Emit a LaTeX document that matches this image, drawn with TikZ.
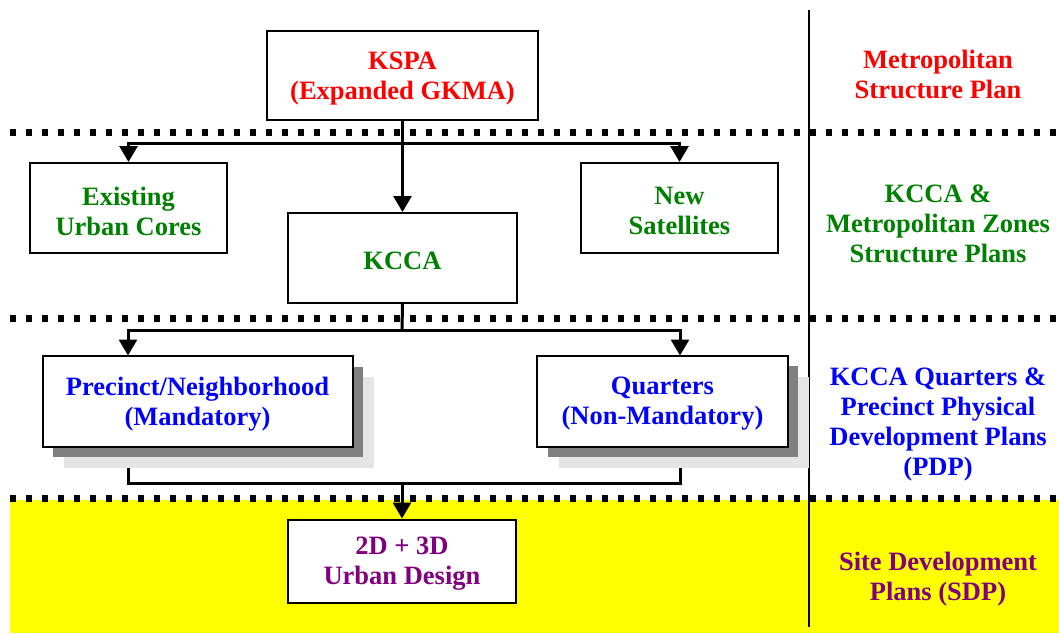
\documentclass[tikz,border=0pt]{standalone}
\usepackage{fontspec}
\setmainfont{Liberation Serif}
\usetikzlibrary{arrows.meta}
\definecolor{cred}{RGB}{255,0,0}
\definecolor{cgreen}{RGB}{0,128,0}
\definecolor{cblue}{RGB}{0,0,255}
\definecolor{cpurple}{RGB}{128,0,128}
\definecolor{cyel}{RGB}{255,255,0}
\definecolor{shdark}{RGB}{128,128,128}
\definecolor{shlight}{RGB}{229,229,229}
\tikzset{
  txt/.style={font=\fontsize{26.5}{30}\selectfont\bfseries, align=center, inner sep=0pt},
  box/.style={draw=black, line width=2pt, fill=white, rectangle, inner sep=0pt},
  boxtext/.style 2 args={label={[txt,text=#1,yshift=-3pt]center:#2}},
  conn/.style={line width=3pt, line cap=butt},
  arr/.style={conn, -{Triangle[width=18pt,length=16pt]}},
  dotline/.style={line width=7pt, dash pattern=on 6pt off 10pt},
}
\begin{document}
\begin{tikzpicture}[x=1pt,y=-1pt]
\useasboundingbox (0,0) rectangle (1059,635);
\fill[white] (0,0) rectangle (1059,635);
\fill[cyel] (10,500) rectangle (1059,633);
% separators
\draw[dotline] (10,132) -- (1059,132);
\draw[dotline] (10,318) -- (1059,318);
\draw[dotline] (10,498) -- (1059,498);
\draw[line width=2pt] (809,10) -- (809,627);
% shadows
\fill[shlight] (64,377) rectangle (374,468);
\fill[shdark] (53,367) rectangle (363,457);
\fill[shlight] (559,377) rectangle (809,468);
\fill[shdark] (548,366) rectangle (798,457);
% boxes
\node[box, minimum width=271pt, minimum height=89pt, boxtext={cred}{KSPA\\(Expanded GKMA)}] (kspa) at (402.5,75.5) {};
\node[box, minimum width=197pt, minimum height=90pt, boxtext={cgreen}{Existing\\Urban Cores}] (exist) at (128.5,208) {};
\node[box, minimum width=197pt, minimum height=90pt, boxtext={cgreen}{New\\Satellites}] (newsat) at (679.5,208) {};
\node[box, minimum width=229pt, minimum height=90pt, boxtext={cgreen}{KCCA}] (kcca) at (402.5,258) {};
\node[box, minimum width=310pt, minimum height=91pt, boxtext={cblue}{Precinct/Neighborhood\\(Mandatory)}] (prec) at (197.5,401) {};
\node[box, minimum width=251pt, minimum height=91pt, boxtext={cblue}{Quarters\\(Non-Mandatory)}] (quart) at (662.5,401) {};
\node[box, minimum width=228pt, minimum height=83pt, boxtext={cpurple}{2D + 3D\\Urban Design}] (urban) at (402,561) {};
% right labels
\node[txt, text=cred] (lab1) at (938,74) {Metropolitan\\Structure Plan};
\node[txt, text=cgreen] (lab2) at (938,224) {KCCA \&\\Metropolitan Zones\\Structure Plans};
\node[txt, text=cblue] (lab3) at (938,424) {KCCA Quarters \&\\Precinct Physical\\Development Plans\\(PDP)};
\node[txt, text=cpurple] (lab4) at (938,579) {Site Development\\Plans (SDP)};
% connectors
\coordinate (j1) at (402,143);
\coordinate (j2) at (402,330);
\coordinate (precin) at (128,355.5);
\coordinate (quartin) at (680,355.5);
\coordinate (precout) at (128,468);
\coordinate (quartout) at (680,468);
\coordinate (j3) at (402,483);
\draw[arr] (kspa.south) -- (kcca.north);
\draw[arr] (j1) -| (exist.north);
\draw[arr] (j1) -| (newsat.north);
\draw[conn] (kcca.south) -- (j2);
\draw[arr] (j2) -| (precin);
\draw[arr] (j2) -| (quartin);
\draw[conn] (precout) |- (j3);
\draw[conn] (quartout) |- (j3);
\draw[arr] (j3) -- (urban.north);
\end{tikzpicture}
\end{document}
